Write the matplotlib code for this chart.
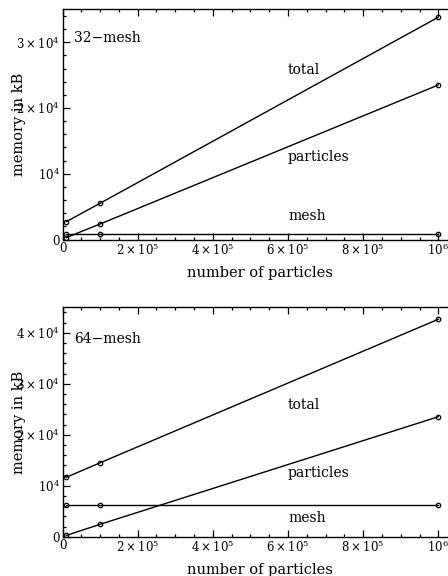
import matplotlib
matplotlib.use("Agg")
import matplotlib.pyplot as plt
from matplotlib.ticker import FixedLocator, MultipleLocator

plt.rcParams['font.family'] = ['DejaVu Serif']
plt.rcParams['mathtext.fontset'] = 'dejavuserif'

# particle counts used in the runs
npart = [1e4, 1e5, 1e6]

# memory use in kB, 32^3 mesh
total32 = [2720, 5520, 33800]
particles32 = [300, 2370, 23500]
mesh32 = [800, 800, 800]

# memory use in kB, 64^3 mesh
total64 = [11650, 14500, 42650]
particles64 = [250, 2430, 23530]
mesh64 = [6216, 6216, 6216]

xticks = [0, 2e5, 4e5, 6e5, 8e5, 1e6]
xticklabels = ['0', r'$2\times10^5$', r'$4\times10^5$', r'$6\times10^5$',
               r'$8\times10^5$', r'$10^6$']
yticks32 = [0, 1e4, 2e4, 3e4]
yticks64 = [0, 1e4, 2e4, 3e4, 4e4]
yticklabels = ['0', r'$10^4$', r'$2\times10^4$', r'$3\times10^4$', r'$4\times10^4$']

W, H = 448.0, 576.0
fig = plt.figure(figsize=(W / 100, H / 100), dpi=100)
axw = 394.6 / W

panels = [
    (fig.add_axes([62.5 / W, 1 - 239.6 / H, axw, 230.3 / H]),
     '32\u2212mesh', total32, particles32, mesh32, yticks32, 35000,
     (30700, 25700, 12600, 3600)),
    (fig.add_axes([62.5 / W, 1 - 536.7 / H, axw, 229.4 / H]),
     '64\u2212mesh', total64, particles64, mesh64, yticks64, 45000,
     (38800, 25800, 12550, 3600)),
]

fs_tick = 8.5
fs_text = 10
fs_label = 10.5
for ax, name, tot, part, mesh, yt, ymax, ty in panels:
    for series in (tot, part, mesh):
        ax.plot(npart, series, color='k', lw=1.0, marker='o', ms=3.2,
                mfc='none', mec='k', mew=0.9)
    ax.set_xlim(0, 1.05e6)
    ax.set_ylim(0, ymax)

    ax.xaxis.set_major_locator(FixedLocator(xticks))
    ax.set_xticklabels(xticklabels)
    ax.xaxis.set_minor_locator(MultipleLocator(5e4))
    ax.yaxis.set_major_locator(FixedLocator(yt))
    ax.set_yticklabels(yticklabels[:len(yt)])
    ax.yaxis.set_minor_locator(MultipleLocator(2000))

    ax.tick_params(which='both', direction='in', top=True, right=True,
                   labelsize=fs_tick, width=0.9, pad=2)
    ax.tick_params(which='major', length=5)
    ax.tick_params(which='minor', length=2.5)
    for sp in ax.spines.values():
        sp.set_linewidth(1.0)

    ax.text(3e4, ty[0], name, fontsize=fs_text, va='center', ha='left')
    ax.text(6e5, ty[1], 'total', fontsize=fs_text, va='center', ha='left')
    ax.text(6e5, ty[2], 'particles', fontsize=fs_text, va='center', ha='left')
    ax.text(6e5, ty[3], 'mesh', fontsize=fs_text, va='center', ha='left')

    ax.set_xlabel('number of particles', fontsize=fs_label, va='center')
    ax.xaxis.set_label_coords(0.5, -0.143)
    ax.set_ylabel('memory in kB', fontsize=fs_label, va='center')
    ax.yaxis.set_label_coords((19 - 62.5) / 394.6, 0.5)

fig.savefig('out.png', dpi=100)
